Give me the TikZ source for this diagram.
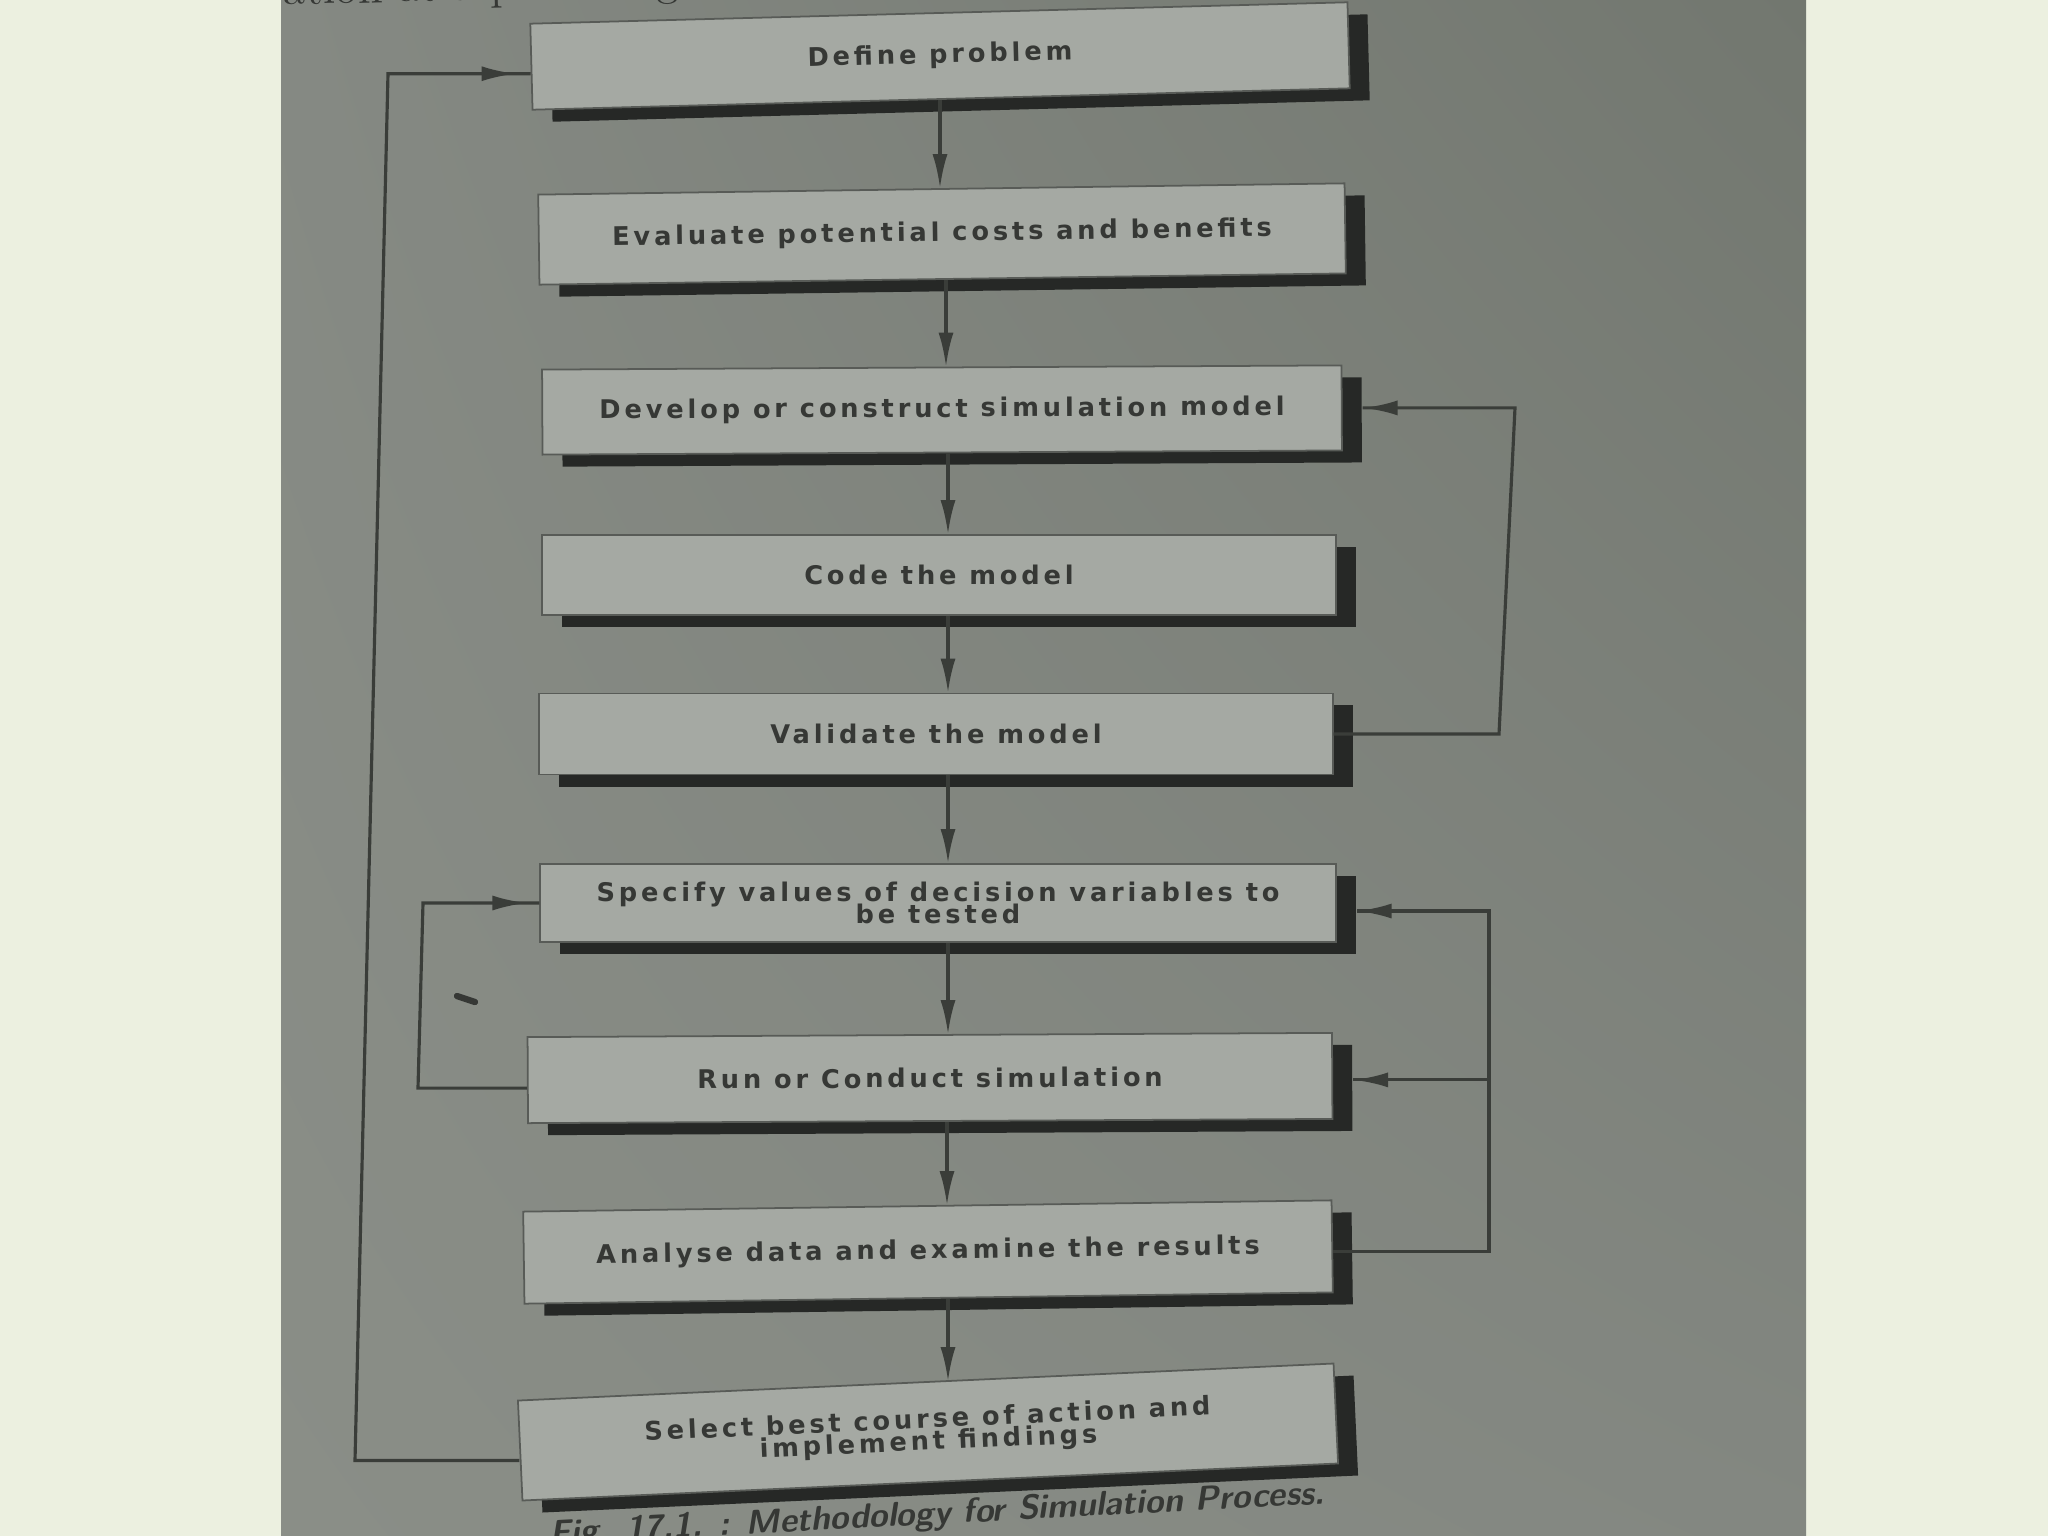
\documentclass[tikz,border=0pt]{standalone}
\usepackage{fontspec}
\usetikzlibrary{arrows.meta, positioning, calc, shadows, shadings, decorations.markings}
\newfontfamily\boxfont[LetterSpace=15]{DejaVu Sans}
\definecolor{page}{HTML}{ECF0E0}
\definecolor{photoul}{HTML}{858983}
\definecolor{photour}{HTML}{72776F}
\definecolor{photoll}{HTML}{8A8E87}
\definecolor{photolr}{HTML}{838781}
\definecolor{boxfill}{HTML}{A5A9A3}
\definecolor{boxline}{HTML}{585B57}
\definecolor{shadowc}{HTML}{262826}
\definecolor{ink}{HTML}{363835}
\definecolor{wire}{HTML}{3A3D39}

\tikzset{
  stepbox/.style={draw=boxline, line width=0.5pt, fill=boxfill, inner sep=0pt,
    align=center, text=ink,
    font={\boxfont\bfseries\fontsize{7.3}{6.3}\selectfont\lineskiplimit=-20pt},
    drop shadow={opacity=1, fill=shadowc, shadow xshift=0.2cm, shadow yshift=-0.12cm}},
  flow/.style={draw=wire, line width=0.9pt, -{Latex[length=3.4mm, width=1.5mm]}},
  back/.style={draw=wire, line width=0.9pt, postaction=decorate,
    decoration={markings, mark=at position -#1 with {\arrow{Latex[length=3.4mm, width=1.5mm]}}}},
}

\begin{document}
\begin{tikzpicture}[x=0.01cm, y=-0.01cm]
\useasboundingbox (0,0) rectangle (2048,1536);

% page and photo
\fill[page] (0,0) rectangle (2048,1536);
\shade[upper left=photoul, upper right=photour, lower left=photoll, lower right=photolr]
  (281,0) rectangle (1806,1536);

% Steps
\node[stepbox, minimum width=8.17cm, minimum height=0.86cm, rotate=1.5] (def) at (940,56) {Define problem};
\node[stepbox, minimum width=8.06cm, minimum height=0.90cm, rotate=0.8] (eva) at (942,234) {Evaluate potential costs and benefits};
\node[stepbox, minimum width=7.99cm, minimum height=0.85cm, rotate=0.3] (dev) at (942,410) {Develop or construct simulation model};
\node[stepbox, minimum width=7.94cm, minimum height=0.80cm] (code) at (939,575) {Code the model};
\node[stepbox, minimum width=7.93cm, minimum height=0.81cm] (val) at (936,734) {Validate the model};
\node[stepbox, minimum width=7.95cm, minimum height=0.78cm] (spec) at (938,903) {Specify values of decision variables to\\be tested};
\node[stepbox, minimum width=8.04cm, minimum height=0.86cm, rotate=0.3] (run) at (930,1078) {Run or Conduct simulation};
\node[stepbox, minimum width=8.08cm, minimum height=0.92cm, rotate=0.8] (ana) at (928,1252) {Analyse data and examine the results};
\node[stepbox, minimum width=8.16cm, minimum height=1.00cm, rotate=2.6] (sel) at (928,1432) {Select best course of action and\\implement findings};

% Main flow
\foreach \a/\b/\x in {def/eva/940, eva/dev/946, dev/code/948, code/val/948, val/spec/948, spec/run/948, run/ana/947, ana/sel/948}
  \draw[flow] (\x,0 |- \a.south) -- (\x,0 |- \b.north);

% Feedback lines
\coordinate (outb) at (355,0);
\coordinate (outt) at (388,0);
\coordinate (inb) at (418,0);
\coordinate (intop) at (423,0);
\coordinate (rv) at (1499,0);
\coordinate (rvt) at (1515,0);
\coordinate (ra) at (1489,0);
\coordinate (selw) at ([yshift=-0.1cm]sel.west);
\coordinate (defw) at ([yshift=-0.07cm]def.west);
\coordinate (runw) at ([yshift=-0.08cm]run.west);
\coordinate (anae) at ([yshift=-0.05cm]ana.east);
\coordinate (spece) at ([xshift=0.2cm, yshift=-0.08cm]spec.east);
\coordinate (rune) at ([xshift=0.2cm, yshift=-0.04cm]run.east);
\coordinate (deve) at ([xshift=0.2cm]dev.east);

\draw[back=0.15cm] (selw) -- (outb |- selw) -- (outt |- defw) -- (defw);
\draw[back=0.13cm] (runw) -- (inb |- runw) -- (intop |- spec.west) -- (spec.west);
\draw[back=0.01cm] (val.east) -- (rv |- val.east) -- (rvt |- deve) -- (deve);
\draw[back=0.01cm] (anae) -- (ra |- anae) -- (ra |- spece) -- (spece);
\draw[back=0.01cm] (ra |- rune) -- (rune);

% mark on the page
\draw[ink, line width=1.8pt, line cap=round] (457,996) -- (475,1002);

% cut-off text at top and caption
\begin{scope}
\clip (281,0) rectangle (1806,1536);
\node[anchor=base west, inner sep=0pt, text=ink, font=\fontsize{13}{15}\selectfont, rotate=1.5] (prev) at (283,5) {ation at a prior stage};
\node[anchor=base, inner sep=0pt, text=ink, font=\sffamily\bfseries\itshape\fontsize{9.7}{11}\selectfont, rotate=3] (cap) at (938,1524) {Fig. 17.1. : Methodology for Simulation Process.};
\end{scope}

\end{tikzpicture}
\end{document}
